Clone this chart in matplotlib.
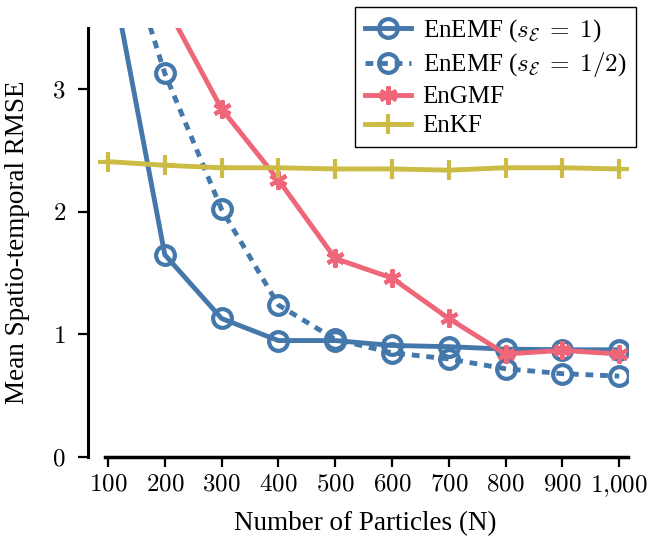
import matplotlib
matplotlib.use("Agg")
import matplotlib.pyplot as plt

plt.rcParams['font.family'] = ['Liberation Serif', 'DejaVu Serif']
plt.rcParams['mathtext.fontset'] = 'cm'

# values
particles = [100, 200, 300, 400, 500, 600, 700, 800, 900, 1000]
enemf_1 = [4.1, 1.65, 1.13, 0.95, 0.95, 0.91, 0.90, 0.88, 0.875, 0.875]
enemf_half = [4.6, 3.13, 2.02, 1.24, 0.96, 0.85, 0.80, 0.72, 0.68, 0.66]
engmf = [4.6, 3.70, 2.84, 2.26, 1.62, 1.46, 1.13, 0.84, 0.87, 0.84]
enkf = [2.41, 2.38, 2.36, 2.36, 2.35, 2.35, 2.34, 2.36, 2.36, 2.35]
xtick_labels = ['$100$', '$200$', '$300$', '$400$', '$500$', '$600$', '$700$',
                '$800$', '$900$', '$1{,}000$']
ytick_values = [0, 1, 2, 3]

BLUE = '#4477AA'
RED = '#EE6677'
YELLOW = '#CCBB44'

fig = plt.figure(figsize=(6.49, 5.41), dpi=100)
ax = fig.add_axes([88/649, 1 - 457/541, (628-88)/649, (457-28)/541])

lw = 3.5
ax.plot(particles, enemf_1, color=BLUE, lw=lw, marker='o', ms=13.5, mew=3,
        mfc='none', label=r'EnEMF ($s_{\mathcal{E}}\;=\;1$)')
ax.plot(particles, enemf_half, color=BLUE, lw=lw, ls=(0, (1.6, 1.4)), marker='o', ms=13.5, mew=3,
        mfc='none', label=r'EnEMF ($s_{\mathcal{E}}\;=\;1/2$)')
ax.plot(particles, engmf, color=RED, lw=lw, marker=(6, 2, 0), ms=13, mew=3,
        label='EnGMF')
ax.plot(particles, enkf, color=YELLOW, lw=lw, marker='+', ms=15, mew=3,
        label='EnKF')

ax.set_xlim(100 - 20/0.568, 100 + 520/0.568)
ax.set_ylim(0, 3.5)
ax.set_xticks(particles)
ax.set_xticklabels(xtick_labels, fontsize=18)
ax.set_yticks(ytick_values)
ax.set_yticklabels([f'${v}$' for v in ytick_values], fontsize=18)

ax.spines['top'].set_visible(False)
ax.spines['right'].set_visible(False)
ax.spines['left'].set_linewidth(2.2)
ax.spines['bottom'].set_linewidth(2.5)
ax.spines['bottom'].set_bounds(95, 1015)
ax.tick_params(axis='both', width=1.6, length=7, direction='out')
ax.tick_params(axis='y', pad=9)
ax.tick_params(axis='x', pad=5)

ax.set_xlabel('Number of Particles (N)', fontsize=19.5)
ax.xaxis.set_label_coords((365-88)/540, (457-511)/429)
ax.set_ylabel('Mean Spatio-temporal RMSE', fontsize=19.5)
ax.yaxis.set_label_coords((30-88)/540, 0.5)

leg = ax.legend(loc='upper right', bbox_to_anchor=(636/649, 1 - 7/541),
                bbox_transform=fig.transFigure, fontsize=18, fancybox=False,
                edgecolor='black', framealpha=1, handlelength=1.85,
                borderpad=0.4, labelspacing=0.26, handletextpad=0.45,
                borderaxespad=0)
leg.get_frame().set_linewidth(1.0)

fig.savefig('out.png', dpi=100)
